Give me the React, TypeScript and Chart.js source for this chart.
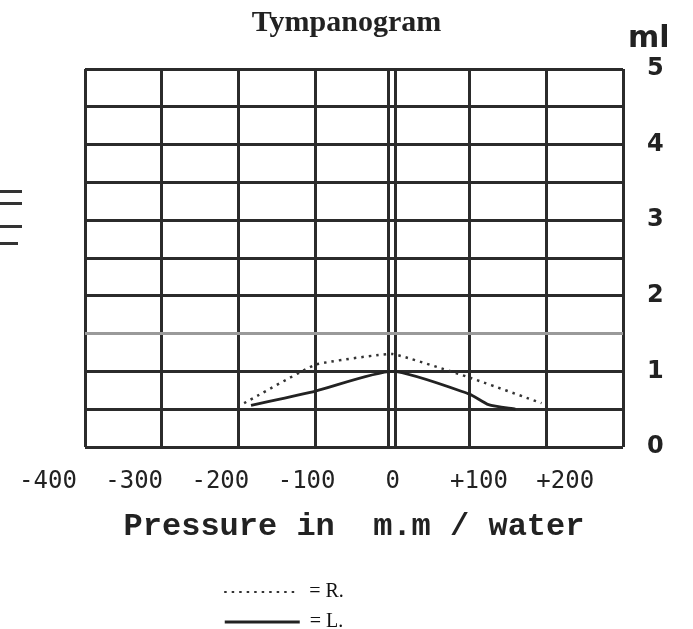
import { useEffect, useRef } from 'react';
import { Chart, registerables } from 'chart.js';

Chart.register(...registerables);

// ---- data ----
const chartTitle = 'Tympanogram';
const unitLabel = 'ml';
const xAxisTitle = 'Pressure in  m.m / water';
const xTickValues = [-400, -300, -200, -100, 0, 100, 200];
const xTickLabels = ['-400', '-300', '-200', '-100', '0', '+100', '+200'];
const xGridValues = [-400, -300, -200, -100, -4.5, 4.5, 100, 200, 300];
const yTickLabels = ['0', '1', '2', '3', '4', '5'];
const seriesNames = ['R.', 'L.'];
const rightPressure = [-193, -100, 0, 100, 194];
const rightCompliance = [0.58, 1.09, 1.23, 0.92, 0.58];
const leftPressure = [-184, -100, 0, 100, 125, 160];
const leftCompliance = [0.55, 0.74, 1.0, 0.7, 0.56, 0.5];

const ink = '#2b2b2b';
const legendPad = ' '.repeat(28);

const unitPlugin = {
  id: 'unitLabel',
  afterDraw(chart: any) {
    const { ctx, chartArea } = chart;
    ctx.save();
    ctx.font = 'bold 30px "DejaVu Sans"';
    ctx.fillStyle = '#222';
    ctx.textAlign = 'left';
    ctx.textBaseline = 'alphabetic';
    ctx.fillText(unitLabel, chartArea.right + 5, chartArea.top - 22);
    ctx.restore();
  },
};

export default function App() {
  const canvasRef = useRef<HTMLCanvasElement | null>(null);

  useEffect(() => {
    if (!canvasRef.current) return;
    const chart = new Chart(canvasRef.current, {
      type: 'line',
      data: {
        datasets: [
          {
            label: seriesNames[0],
            data: rightPressure.map((p, i) => ({ x: p, y: rightCompliance[i] })),
            borderColor: '#333',
            borderWidth: 2.5,
            borderDash: [2.5, 5],
            pointRadius: 0,
            tension: 0.1,
            fill: false,
          },
          {
            label: seriesNames[1],
            data: leftPressure.map((p, i) => ({ x: p, y: leftCompliance[i] })),
            borderColor: '#222',
            borderWidth: 2.8,
            pointRadius: 0,
            tension: 0.2,
            fill: false,
          },
        ],
      },
      options: {
        animation: false,
        responsive: true,
        maintainAspectRatio: false,
        layout: { padding: { left: 0, right: 0, top: 0, bottom: -13 } },
        plugins: {
          title: {
            display: true,
            text: chartTitle,
            color: '#222',
            font: { family: '"Liberation Serif", "Times New Roman", serif', size: 30, weight: 'bold' },
            padding: { top: 5, bottom: 28 },
          },
          legend: {
            display: true,
            position: 'bottom',
            fullSize: false,
            labels: {
              usePointStyle: true,
              pointStyleWidth: 75,
              padding: 10,
              color: '#111',
              font: { family: '"Liberation Serif", "Times New Roman", serif', size: 20 },
              generateLabels: (c: any) =>
                c.data.datasets.map((ds: any, i: number) => ({
                  text: '= ' + ds.label + legendPad,
                  strokeStyle: ds.borderColor,
                  fillStyle: 'transparent',
                  lineWidth: i === 0 ? 2 : 3,
                  lineDash: ds.borderDash || [],
                  pointStyle: 'line',
                  datasetIndex: i,
                  hidden: false,
                  fontColor: '#111',
                })),
            },
          },
          tooltip: { enabled: false },
        },
        scales: {
          x: {
            type: 'linear',
            position: 'bottom',
            min: -400,
            max: 300,
            weight: 0,
            afterBuildTicks: (scale: any) => {
              scale.ticks = xGridValues.map((v) => ({ value: v }));
            },
            ticks: { display: false },
            grid: { color: ink, lineWidth: 3, drawTicks: false },
            border: { display: false },
          },
          xl: {
            type: 'linear',
            position: 'bottom',
            min: -357,
            max: 267,
            weight: 1,
            afterBuildTicks: (scale: any) => {
              scale.ticks = xTickValues.map((v) => ({ value: v }));
            },
            afterFit: (scale: any) => {
              scale.paddingLeft = 85;
              scale.paddingRight = 0;
            },
            ticks: {
              autoSkip: false,
              maxRotation: 0,
              minRotation: 0,
              padding: 20,
              color: '#222',
              font: { family: '"DejaVu Sans Mono", monospace', size: 24 },
              callback: (_v: any, i: number) => xTickLabels[i],
            },
            grid: { display: false, drawTicks: false },
            border: { display: false },
            title: {
              display: true,
              text: xAxisTitle,
              color: '#222',
              font: { family: '"Liberation Mono", "Courier New", monospace', size: 32, weight: 'bold' },
              padding: { top: -8, bottom: 25.8 },
            },
          },
          y: {
            type: 'linear',
            position: 'right',
            min: 0,
            max: 5,
            afterFit: (scale: any) => {
              scale.width = 70;
            },
            ticks: {
              stepSize: 0.5,
              padding: 24,
              color: '#222',
              font: { family: '"DejaVu Sans", sans-serif', size: 24, weight: 'bold' },
              callback: (v: any) => (Number.isInteger(v) ? yTickLabels[v] : ''),
            },
            grid: {
              color: (ctx: any) => (ctx.tick && ctx.tick.value === 1.5 ? '#9a9a9a' : ink),
              lineWidth: 3,
              drawTicks: false,
            },
            border: { display: false },
          },
        },
      } as any,
      plugins: [unitPlugin],
    });
    return () => chart.destroy();
  }, []);

  const marks = [190, 202, 225, 242];
  return (
    <div style={{ position: 'fixed', left: 0, top: 0, width: 693, height: 629, background: '#fff' }}>
      {marks.map((t, i) => (
        <div
          key={i}
          style={{ position: 'absolute', left: 0, top: t, width: i === 3 ? 18 : 22, height: 3, background: '#333' }}
        />
      ))}
      <canvas ref={canvasRef} />
    </div>
  );
}
